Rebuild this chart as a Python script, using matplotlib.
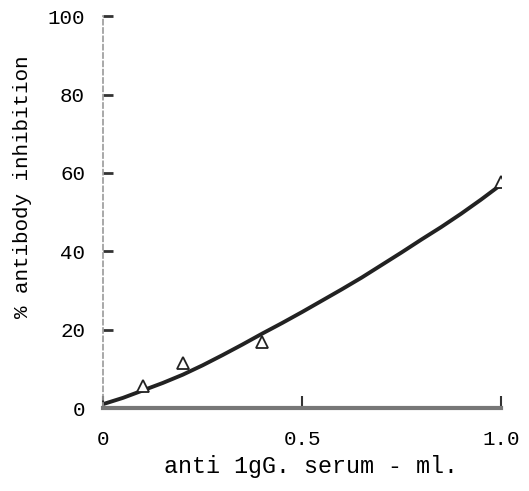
import matplotlib
matplotlib.use("Agg")
import matplotlib.pyplot as plt

# data
point_x = [0.1, 0.2, 0.4, 1.0]
point_y = [5.6, 11.5, 16.8, 57.7]
curve_x = [0.0, 0.05, 0.1, 0.15, 0.2, 0.25, 0.3, 0.35, 0.4, 0.45, 0.5,
           0.55, 0.6, 0.65, 0.7, 0.75, 0.8, 0.85, 0.9, 0.95, 1.0]
curve_y = [1.0, 2.6, 4.5, 6.4, 8.5, 10.9, 13.5, 16.2, 19.0, 21.7, 24.5,
           27.4, 30.3, 33.3, 36.5, 39.7, 43.0, 46.2, 49.6, 53.2, 57.0]
xticks = [0, 0.5, 1.0]
xtick_labels = ["0", "0.5", "1.0"]
yticks = [0, 20, 40, 60, 80, 100]
ytick_labels = ["0", "20", "40", "60", "80", "100"]

plt.rcParams['font.family'] = ['Liberation Mono', 'DejaVu Sans Mono']

fig = plt.figure(figsize=(5.29, 4.91), dpi=100)
ax = fig.add_axes([0.195, 0.169, 0.752, 0.798])

ax.plot(curve_x, curve_y, color="#222222", lw=2.8, solid_capstyle="round",
        solid_joinstyle="round")
ax.plot(point_x, point_y, linestyle="none", marker="^", markersize=8,
        markerfacecolor="white", markeredgecolor="#222222", markeredgewidth=1.3)

ax.set_xlim(0, 1.0)
ax.set_ylim(0, 100)
ax.set_xticks(xticks)
ax.set_xticklabels(xtick_labels)
ax.set_yticks(yticks)
ax.set_yticklabels(ytick_labels)

for s in ["top", "right"]:
    ax.spines[s].set_visible(False)
ax.spines["left"].set_color("#999999")
ax.spines["left"].set_linewidth(1.2)
ax.spines["left"].set_linestyle((0, (3, 2)))
ax.spines["bottom"].set_color("#777777")
ax.spines["bottom"].set_linewidth(3)

ax.tick_params(axis="y", direction="in", length=7, width=2, color="#333333",
               labelsize=15, pad=13)
ax.tick_params(axis="x", direction="in", length=9, width=1.5, color="#333333",
               labelsize=15, pad=16)

ax.set_xlabel("anti 1gG. serum - ml.", fontsize=16.8)
ax.set_ylabel("% antibody inhibition", fontsize=15)
ax.xaxis.set_label_coords(0.523, -0.12)
ax.yaxis.set_label_coords(-0.18, 0.564)

fig.savefig("out.png", dpi=100, facecolor="white")
